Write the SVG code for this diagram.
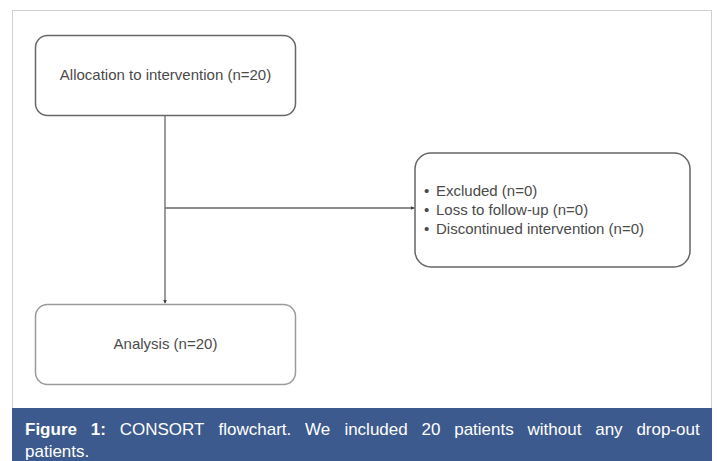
<svg xmlns="http://www.w3.org/2000/svg" width="717" height="461" viewBox="0 0 717 461">
<style>
.box{fill:#ffffff;stroke:#666666;stroke-width:1.5}
.box2{fill:#ffffff;stroke:#9a9a9a;stroke-width:1.5}
.lbl{font-family:"Liberation Sans",Arial,sans-serif;font-size:15px;fill:#4a4a4a}
.conn{stroke:#666666;stroke-width:1.3;fill:none}
.cap{font-family:"Liberation Sans",Arial,sans-serif;font-size:17px;fill:#ffffff}
</style>
<defs>
<marker id="arr" viewBox="0 0 6 6" refX="5" refY="3" markerWidth="4" markerHeight="4" orient="auto" markerUnits="userSpaceOnUse">
<path d="M0,0 L6,3 L0,6 z" fill="#444444"/>
</marker>
</defs>
<rect x="0" y="0" width="717" height="461" fill="#ffffff"/>
<rect x="12.5" y="10.5" width="699" height="398" fill="#ffffff" stroke="#d0d0d0" stroke-width="1"/>
<g id="connectors">
<line class="conn" x1="165" y1="116" x2="165" y2="303" marker-end="url(#arr)"/>
<line class="conn" x1="165" y1="208" x2="414" y2="208" marker-end="url(#arr)"/>
</g>
<g id="node-allocation">
<rect class="box" x="35.5" y="35.5" width="260" height="80" rx="12"/>
<text class="lbl" x="165.5" y="80" text-anchor="middle">Allocation to intervention (n=20)</text>
</g>
<g id="node-excluded">
<rect class="box" x="415" y="153" width="275" height="114" rx="16"/>
<text class="lbl" y="196"><tspan x="424">•</tspan><tspan x="436">Excluded (n=0)</tspan></text>
<text class="lbl" y="215"><tspan x="424">•</tspan><tspan x="436">Loss to follow-up (n=0)</tspan></text>
<text class="lbl" y="234"><tspan x="424">•</tspan><tspan x="436">Discontinued intervention (n=0)</tspan></text>
</g>
<g id="node-analysis">
<rect class="box2" x="35.5" y="304.5" width="260" height="80" rx="12"/>
<text class="lbl" x="165.5" y="349" text-anchor="middle">Analysis (n=20)</text>
</g>
<g id="caption">
<rect x="12" y="408" width="700" height="53" fill="#3c5a8e"/>
<text class="cap" y="435"><tspan x="25" font-weight="bold">Figure</tspan><tspan x="90.8" font-weight="bold">1:</tspan><tspan x="119.7">CONSORT</tspan><tspan x="218.5">flowchart.</tspan><tspan x="305.1">We</tspan><tspan x="344.4">included</tspan><tspan x="421.5">20</tspan><tspan x="454.2">patients</tspan><tspan x="527.5">without</tspan><tspan x="595.2">any</tspan><tspan x="636.4">drop-out</tspan></text>
<text class="cap" x="25" y="457">patients.</text>
</g>
</svg>
